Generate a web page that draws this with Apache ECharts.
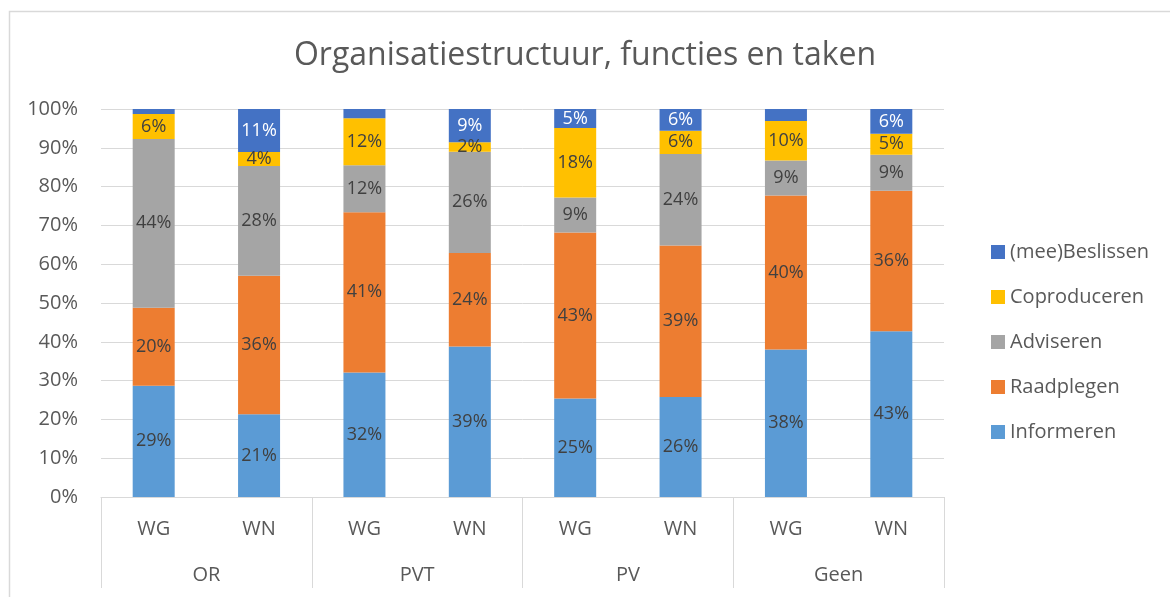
<!DOCTYPE html>
<html>
<head>
<meta charset="utf-8">
<script src="https://cdn.jsdelivr.net/npm/echarts@6/dist/echarts.min.js"></script>
<style>
html, body { margin: 0; padding: 0; background: #fff; }
#chart { width: 1170px; height: 597px; }
</style>
</head>
<body>
<div id="chart"></div>
<script>
// categories (two-level x axis)
var subCats = ['WG', 'WN', 'WG', 'WN', 'WG', 'WN', 'WG', 'WN'];
var groups = ['OR', 'PVT', 'PV', 'Geen'];
var yTicks = [0, 10, 20, 30, 40, 50, 60, 70, 80, 90, 100];

// percentages per bar
var informeren   = [28.7, 21.3, 32.1, 38.8, 25.4, 25.8, 38.0, 42.7];
var raadplegen   = [20.1, 35.7, 41.3, 24.1, 42.8, 39.0, 39.7, 36.2];
var adviseren    = [43.5, 28.3, 12.1, 26.1, 9.0, 23.6, 9.0, 9.3];
var coproduceren = [6.4, 3.6, 12.1, 2.4, 17.9, 6.0, 10.2, 5.4];
var beslissen    = [1.3, 11.1, 2.4, 8.6, 4.9, 5.6, 3.1, 6.4];
// which beslissen values carry a label in the original
var beslissenShown = [false, true, false, true, true, true, false, true];

var font = 'Open Sans';
var gridColor = '#d9d9d9';

var chart = echarts.init(document.getElementById('chart'));

function makeSeries(name, values, color, labelColor, shown) {
	return {
		name: name,
		type: 'bar',
		stack: 'total',
		barWidth: 42,
		xAxisIndex: 0,
		itemStyle: { color: color },
		label: {
			show: true,
			position: 'inside',
			color: labelColor,
			fontFamily: font,
			fontSize: 18,
			formatter: function (p) { return Math.round(p.value) + '%'; }
		},
		data: values.map(function (v, i) {
			if (shown && !shown[i]) {
				return { value: v, label: { show: false } };
			}
			return v;
		})
	};
}

var option = {
	animation: false,
	backgroundColor: '#fff',
	title: {
		text: 'Organisatiestructuur, functies en taken',
		left: 'center',
		top: 35,
		textStyle: { color: '#595959', fontFamily: font, fontSize: 32, fontWeight: 'normal' }
	},
	legend: {
		orient: 'vertical',
		left: 986,
		top: 237,
		itemWidth: 14,
		itemHeight: 14,
		itemGap: 25,
		icon: 'rect',
		textStyle: { color: '#595959', fontFamily: font, fontSize: 20 },
		data: ['(mee)Beslissen', 'Coproduceren', 'Adviseren', 'Raadplegen', 'Informeren']
	},
	grid: { left: 101, right: 226, top: 109, bottom: 100, containLabel: false },
	xAxis: [{
		type: 'category',
		data: subCats,
		position: 'bottom',
		axisLine: { show: true, lineStyle: { color: gridColor, width: 1 } },
		axisTick: { show: false },
		axisLabel: { color: '#595959', fontFamily: font, fontSize: 20, margin: 22, interval: 0 }
	}, {
		type: 'category',
		data: groups,
		position: 'bottom',
		axisLine: { show: false },
		axisTick: { show: true, length: 91, interval: 0, lineStyle: { color: gridColor, width: 1 } },
		axisLabel: { color: '#595959', fontFamily: font, fontSize: 20, margin: 68, interval: 0 }
	}],
	yAxis: {
		type: 'value',
		min: yTicks[0],
		max: yTicks[yTicks.length - 1],
		interval: 10,
		axisLine: { show: false },
		axisTick: { show: false },
		splitLine: { lineStyle: { color: gridColor, width: 1 } },
		axisLabel: { color: '#595959', fontFamily: font, fontSize: 20, margin: 23, formatter: '{value}%' }
	},
	graphic: [{
		type: 'rect',
		left: 7,
		top: 9,
		shape: { width: 1300, height: 700 },
		style: { fill: 'none', stroke: gridColor, lineWidth: 1.5 },
		silent: true,
		z: -1
	}],
	series: [
		makeSeries('Informeren', informeren, '#5b9bd5', '#404040'),
		makeSeries('Raadplegen', raadplegen, '#ed7d31', '#404040'),
		makeSeries('Adviseren', adviseren, '#a5a5a5', '#404040'),
		makeSeries('Coproduceren', coproduceren, '#ffc000', '#404040'),
		makeSeries('(mee)Beslissen', beslissen, '#4472c4', '#ffffff', beslissenShown)
	]
};

chart.setOption(option);
</script>
</body>
</html>
